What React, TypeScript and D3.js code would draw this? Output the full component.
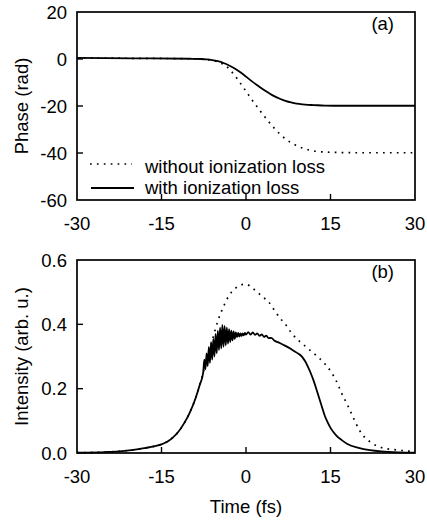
import React from "react";
import * as d3 from "d3";

// ---- Panel (a): phase ----
const phaseTime = [-30, -20, -10, -8, -7, -6, -5, -4, -3, -2, -1, 0, 1, 2, 3, 4, 5, 6, 7, 8, 9, 10, 11, 12, 14, 17, 20, 30];
const phaseWith = [0.5, 0.3, 0.1, 0, -0.15, -0.45, -0.95, -1.7, -2.75, -4.05, -5.65, -7.5, -9.4, -11.2, -12.9, -14.4, -15.8, -16.9, -17.8, -18.5, -19.0, -19.3, -19.5, -19.6, -19.8, -19.9, -19.9, -19.9];
const phaseWithout = [0.5, 0.3, 0.1, 0, -0.2, -0.6, -1.2, -2.3, -4.2, -7.0, -10.3, -13.7, -17.2, -20.4, -23.6, -26.6, -29.4, -31.9, -34.0, -35.6, -36.9, -37.9, -38.6, -39.1, -39.6, -39.8, -39.9, -39.9];

// ---- Panel (b): intensity ----
const intTimeWith = [
  -30, -25, -22, -20, -18, -16, -15, -14, -13, -12, -11, -10, -9, -8.2, -7.6,
  -7.4, -7.2, -7.0, -6.8, -6.6, -6.4, -6.2, -6.0, -5.8, -5.6, -5.4, -5.2, -5.0, -4.8, -4.6, -4.4, -4.2, -4.0,
  -3.8, -3.6, -3.4, -3.2, -3.0, -2.8, -2.6, -2.4, -2.2, -2.0, -1.8, -1.6, -1.4, -1.2, -1.0, -0.8, -0.6, -0.4, -0.2, 0,
  0.4, 0.8, 1.2, 1.6, 2.0, 2.4, 2.8, 3.2, 3.6, 4.0, 4.5, 5, 6, 7, 8, 9, 10, 10.5, 11, 11.5, 12, 12.5, 13, 13.5, 14, 14.5,
  15, 16, 17, 18, 20, 22, 24, 27, 30,
];
const intWith = [
  0.001, 0.003, 0.006, 0.01, 0.015, 0.022, 0.027, 0.035, 0.048, 0.066, 0.092, 0.125, 0.168, 0.212, 0.25,
  0.29, 0.26, 0.31, 0.27, 0.33, 0.28, 0.345, 0.29, 0.355, 0.3, 0.37, 0.31, 0.38, 0.32, 0.39, 0.325, 0.398, 0.33,
  0.395, 0.335, 0.39, 0.34, 0.385, 0.345, 0.38, 0.35, 0.378, 0.355, 0.375, 0.36, 0.373, 0.362, 0.372, 0.364, 0.372, 0.366, 0.373, 0.368,
  0.376, 0.368, 0.375, 0.367, 0.372, 0.364, 0.369, 0.361, 0.365, 0.357, 0.358, 0.35, 0.342, 0.333, 0.323, 0.312, 0.298, 0.285, 0.268, 0.248, 0.225, 0.198, 0.17, 0.142, 0.115, 0.095,
  0.078, 0.055, 0.04, 0.028, 0.016, 0.009, 0.005, 0.002, 0.001,
];
const intTimeWithout = [
  -30, -25, -22, -20, -18, -16, -15, -14, -13, -12, -11, -10, -9, -8.2, -7.6, -7, -6, -5, -4, -3, -2, -1, 0, 1, 2, 3, 4, 5, 6, 7, 8, 9, 10, 11, 12, 13, 14, 15, 16, 17, 18, 19, 20, 21, 22, 23, 24, 26, 28, 30,
];
const intWithout = [
  0.001, 0.003, 0.006, 0.01, 0.015, 0.022, 0.027, 0.035, 0.048, 0.066, 0.092, 0.125, 0.168, 0.212, 0.25, 0.29, 0.35, 0.41, 0.455, 0.49, 0.51, 0.522, 0.525, 0.515, 0.5, 0.485, 0.47, 0.445, 0.42, 0.4, 0.375, 0.355, 0.34, 0.325, 0.31, 0.295, 0.277, 0.255, 0.225, 0.185, 0.15, 0.112, 0.075, 0.05, 0.035, 0.024, 0.017, 0.011, 0.007, 0.005,
];

const xTicks = [-30, -15, 0, 15, 30];
const phaseTicks = [20, 0, -20, -40, -60];
const intTicks = [0.0, 0.2, 0.4, 0.6];
const legendLabels = ["without ionization loss", "with ionization loss"];

const FONT = "'Liberation Sans', Arial, Helvetica, sans-serif";
const FS = 18.5;

const L = 77;
const R = 415;

function Panel({ top, bottom, yDomain, yTicks, yFmt, yLabel, tag, series, showXTitle, legend }: any) {
  const x = d3.scaleLinear().domain([-30, 30]).range([L, R]);
  const y = d3.scaleLinear().domain(yDomain).range([bottom, top]);
  const innerTicks = xTicks.filter((t) => t !== -30 && t !== 30);
  const innerY = yTicks.filter((t: number) => t !== yDomain[0] && t !== yDomain[1]);
  return (
    <g>
      {series.map((s: any, i: number) => {
        const line = d3
          .line<number>()
          .x((_, k) => x(s.t[k]))
          .y((v) => y(v))
          .curve(d3.curveMonotoneX);
        return (
          <path
            key={i}
            d={line(s.v) || ""}
            fill="none"
            stroke="#000"
            strokeWidth={s.dotted ? 1.7 : 1.8}
            strokeDasharray={s.dotted ? "1.7 5.2" : undefined}
          />
        );
      })}
      <rect x={L} y={top} width={R - L} height={bottom - top} fill="none" stroke="#000" strokeWidth={1.7} />
      {innerTicks.map((t) => (
        <line key={"xt" + t} x1={x(t)} x2={x(t)} y1={bottom} y2={bottom - 6} stroke="#000" strokeWidth={1.4} />
      ))}
      {innerY.map((t: number) => (
        <line key={"yt" + t} x1={L} x2={L + 6} y1={y(t)} y2={y(t)} stroke="#000" strokeWidth={1.4} />
      ))}
      {xTicks.map((t) => (
        <text key={"xl" + t} x={x(t)} y={bottom + 30} textAnchor="middle" fontSize={FS} fontFamily={FONT}>
          {t}
        </text>
      ))}
      {yTicks.map((t: number) => (
        <text key={"yl" + t} x={67} y={y(t) + 6.5} textAnchor="end" fontSize={FS} fontFamily={FONT}>
          {yFmt(t)}
        </text>
      ))}
      <text
        transform={`translate(28,${(top + bottom) / 2}) rotate(-90)`}
        textAnchor="middle"
        fontSize={FS}
        fontFamily={FONT}
      >
        {yLabel}
      </text>
      <text x={394} y={top + 18} textAnchor="end" fontSize={FS} fontFamily={FONT}>
        {tag}
      </text>
      {showXTitle && (
        <text x={(L + R) / 2} y={513} textAnchor="middle" fontSize={FS} fontFamily={FONT}>
          Time (fs)
        </text>
      )}
      {legend && (
        <g>
          <line x1={90} x2={132} y1={164} y2={164} stroke="#000" strokeWidth={1.7} strokeDasharray="1.7 5.2" />
          <text x={145} y={173} fontSize={FS} fontFamily={FONT}>
            {legendLabels[0]}
          </text>
          <line x1={91} x2={134} y1={188} y2={188} stroke="#000" strokeWidth={1.8} />
          <text x={145} y={194} fontSize={FS} fontFamily={FONT}>
            {legendLabels[1]}
          </text>
        </g>
      )}
    </g>
  );
}

export default function App() {
  return (
    <svg width={427} height={522} style={{ display: "block", position: "absolute", left: 0, top: 0, background: "#fff" }}>
      <rect width={427} height={522} fill="#fff" />
      <Panel
        top={12}
        bottom={200}
        yDomain={[-60, 20]}
        yTicks={phaseTicks}
        yFmt={(t: number) => String(t)}
        yLabel="Phase (rad)"
        tag="(a)"
        legend
        series={[
          { t: phaseTime, v: phaseWithout, dotted: true },
          { t: phaseTime, v: phaseWith, dotted: false },
        ]}
      />
      <Panel
        top={260}
        bottom={453}
        yDomain={[0, 0.6]}
        yTicks={intTicks}
        yFmt={(t: number) => t.toFixed(1)}
        yLabel="Intensity (arb. u.)"
        tag="(b)"
        showXTitle
        series={[
          { t: intTimeWithout, v: intWithout, dotted: true },
          { t: intTimeWith, v: intWith, dotted: false },
        ]}
      />
    </svg>
  );
}
